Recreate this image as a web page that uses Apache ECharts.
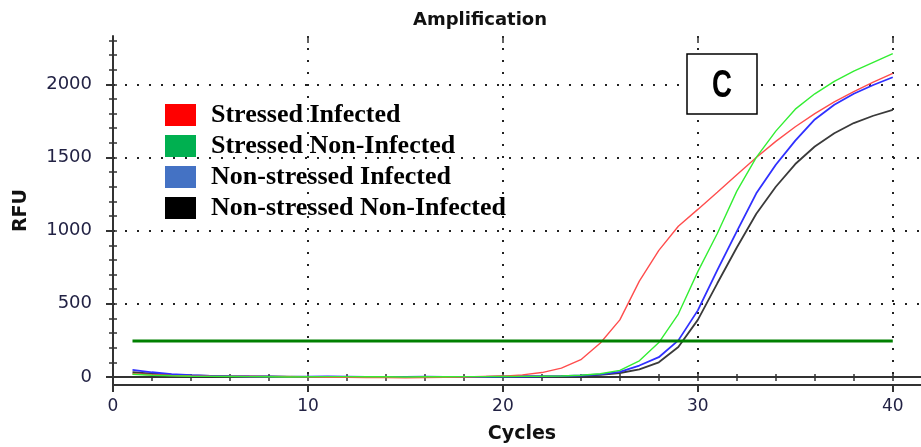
<!DOCTYPE html>
<html>
<head>
<meta charset="utf-8">
<title>Amplification</title>
<script src="https://cdn.jsdelivr.net/npm/echarts@6/dist/echarts.min.js"></script>
<style>
  html, body { margin: 0; padding: 0; background: #fff; }
  #chart { width: 921px; height: 447px; }
</style>
</head>
<body>
<div id="chart"></div>
<script>
// qPCR amplification curves (RFU per cycle)
const cycles = [1,2,3,4,5,6,7,8,9,10,11,12,13,14,15,16,17,18,19,20,
                21,22,23,24,25,26,27,28,29,30,31,32,33,34,35,36,37,38,39,40];

const stressedInfected = [22,15,10,7,5,4,3,2,1,0,-2,-3,-4,-4,-5,-4,-3,0,3,6,
  14,30,60,118,232,390,655,865,1030,1145,1262,1382,1500,1610,1710,1800,1880,1950,2015,2075];

const stressedNonInfected = [18,12,8,5,4,3,2,1,0,1,2,2,1,1,0,1,1,2,2,3,
  4,5,7,12,22,45,110,235,430,720,980,1270,1500,1680,1830,1935,2020,2090,2150,2210];

const nonStressedInfected = [48,32,20,12,8,5,3,2,0,2,3,2,1,0,1,2,1,0,1,2,
  3,4,6,10,18,34,78,135,250,455,730,995,1255,1450,1615,1760,1860,1935,1995,2048];

const nonStressedNonInfected = [32,22,15,10,7,5,4,3,2,1,1,0,0,1,1,0,0,1,1,2,
  3,4,5,8,14,27,52,100,205,390,640,885,1115,1300,1455,1575,1665,1735,1785,1825];

// threshold line
const thresholdCycles = [1, 40];
const thresholdRFU = 245;

// axis ticks
const xMajorTicks = [0, 10, 20, 30, 40];
const xMinorTicks = [];
for (let v = 0; v <= 42; v += 2) xMinorTicks.push(v);
const yMajorTicks = [0, 500, 1000, 1500, 2000];
const yMinorTicks = [];
for (let v = 0; v <= 2300; v += 100) yMinorTicks.push(v);

const seriesNames = ['Stressed Infected', 'Stressed Non-Infected', 'Non-stressed Infected', 'Non-stressed Non-Infected'];
const legendColors = ['#ff0000', '#00b050', '#4472c4', '#000000'];

const pairs = (ys) => cycles.map((c, i) => [c, ys[i]]);

// the plot frame runs past the right edge of the page
const X_MIN = 0, X_MAX = 43.5, Y_MIN = -55, Y_MAX = 2330;
const axisColor = '#333';
const labelFont = { fontFamily: 'DejaVu Sans', color: '#222244' };
// tick-only helper axes carry no text at all
const noLabel = { show: false, formatter: () => '', color: 'rgba(0,0,0,0)' };

function xAux(position, ticks, inside, length) {
  return {
    type: 'value', min: X_MIN, max: X_MAX, position: position,
    axisLine: { show: false },
    axisTick: { show: true, inside: inside, length: length, customValues: ticks,
                lineStyle: { color: axisColor, width: 1.5 } },
    axisLabel: Object.assign({ customValues: ticks }, noLabel), splitLine: { show: false }
  };
}
function yAux(inside, length) {
  return {
    type: 'value', min: Y_MIN, max: Y_MAX, position: 'left',
    axisLine: { show: false },
    axisTick: { show: true, inside: inside, length: length, customValues: yMinorTicks,
                lineStyle: { color: axisColor, width: 1.5 } },
    axisLabel: noLabel, splitLine: { show: false }
  };
}

const chart = echarts.init(document.getElementById('chart'), null, { renderer: 'canvas' });

chart.setOption({
  animation: false,
  backgroundColor: '#fff',
  title: {
    text: 'Amplification', left: 475, top: 6, textAlign: 'center',
    textStyle: { fontFamily: 'DejaVu Sans', fontWeight: 'bold', fontSize: 18, color: '#111' }
  },
  grid: { left: 113, right: -40, top: 36, bottom: 62, outerBoundsMode: 'none', containLabel: false },
  legend: {
    orient: 'vertical', left: 165, top: 102, itemGap: 5, padding: 0,
    itemWidth: 31, itemHeight: 22, icon: 'rect', selectedMode: false,
    textStyle: { fontFamily: 'Liberation Serif', fontWeight: 'bold', fontSize: 26, lineHeight: 26,
                 color: '#000', padding: [0, 0, 0, 10] },
    data: seriesNames.map((n, i) => ({ name: n, itemStyle: { color: legendColors[i], borderWidth: 0 } }))
  },
  xAxis: [
    {
      type: 'value', min: X_MIN, max: X_MAX, position: 'bottom',
      name: 'Cycles', nameLocation: 'middle', nameGap: 40,
      nameTextStyle: { fontFamily: 'DejaVu Sans', fontWeight: 'bold', fontSize: 19, color: '#111',
                       padding: [0, 30, 0, 0] },
      axisLine: { show: true, onZero: false, lineStyle: { color: axisColor, width: 2 } },
      axisTick: { show: true, length: 7, customValues: xMajorTicks, lineStyle: { color: axisColor, width: 2 } },
      axisLabel: {
        fontSize: 17, margin: 13, customValues: xMajorTicks, fontFamily: 'DejaVu Sans',
        formatter: (v) => (v <= 40 ? String(v) : ''),
        color: (v) => (Number(v) <= 40 ? '#222244' : 'rgba(0,0,0,0)')
      },
      splitLine: { show: true, lineStyle: { color: '#222', width: 2, type: [2, 10] } }
    },
    xAux('bottom', xMinorTicks, false, 3),
    xAux('bottom', xMinorTicks, true, 3),
    Object.assign(xAux('top', xMinorTicks, true, 4), { axisLine: { show: true, lineStyle: { color: axisColor, width: 2 } } }),
    xAux('top', xMajorTicks, true, 7)
  ],
  yAxis: [
    {
      type: 'value', min: Y_MIN, max: Y_MAX, position: 'left',
      name: 'RFU', nameLocation: 'middle', nameGap: 82, nameRotate: 90,
      nameTextStyle: { fontFamily: 'DejaVu Sans', fontWeight: 'bold', fontSize: 19, color: '#111' },
      axisLine: { show: true, onZero: false, lineStyle: { color: axisColor, width: 2 } },
      axisTick: { show: true, length: 7, customValues: yMajorTicks, lineStyle: { color: axisColor, width: 2 } },
      axisLabel: Object.assign({
        fontSize: 18, margin: 21, customValues: yMajorTicks,
        formatter: (v) => String(v)
      }, labelFont),
      splitLine: { show: true, lineStyle: { color: '#222', width: 2, type: [2, 10] } }
    },
    yAux(false, 4),
    yAux(true, 4)
  ],
  graphic: [
    { type: 'rect', shape: { x: 687, y: 54, width: 70, height: 60 },
      style: { fill: '#fff', stroke: '#000', lineWidth: 1.5 }, z: 100 },
    { type: 'text', x: 722, y: 86, scaleX: 0.71, z: 101,
      style: { text: 'C', font: 'bold 39px "Liberation Sans"', textAlign: 'center',
               textVerticalAlign: 'middle', fill: '#000' } }
  ],
  series: [
    { name: seriesNames[3], type: 'line', data: pairs(nonStressedNonInfected), showSymbol: false,
      lineStyle: { color: '#3a3a3a', width: 1.8 }, itemStyle: { color: '#3a3a3a' }, z: 2 },
    { name: seriesNames[2], type: 'line', data: pairs(nonStressedInfected), showSymbol: false,
      lineStyle: { color: '#3030ff', width: 1.8 }, itemStyle: { color: '#3030ff' }, z: 3 },
    { name: seriesNames[0], type: 'line', data: pairs(stressedInfected), showSymbol: false,
      lineStyle: { color: '#ff4d4d', width: 1.4 }, itemStyle: { color: '#ff4d4d' }, z: 4 },
    { name: seriesNames[1], type: 'line', data: pairs(stressedNonInfected), showSymbol: false,
      lineStyle: { color: '#33ee33', width: 1.4 }, itemStyle: { color: '#33ee33' }, z: 5 },
    { name: 'Threshold', type: 'line', data: thresholdCycles.map(c => [c, thresholdRFU]), showSymbol: false,
      lineStyle: { color: '#008000', width: 3 }, itemStyle: { color: '#008000' }, z: 6 }
  ]
});
</script>
</body>
</html>
